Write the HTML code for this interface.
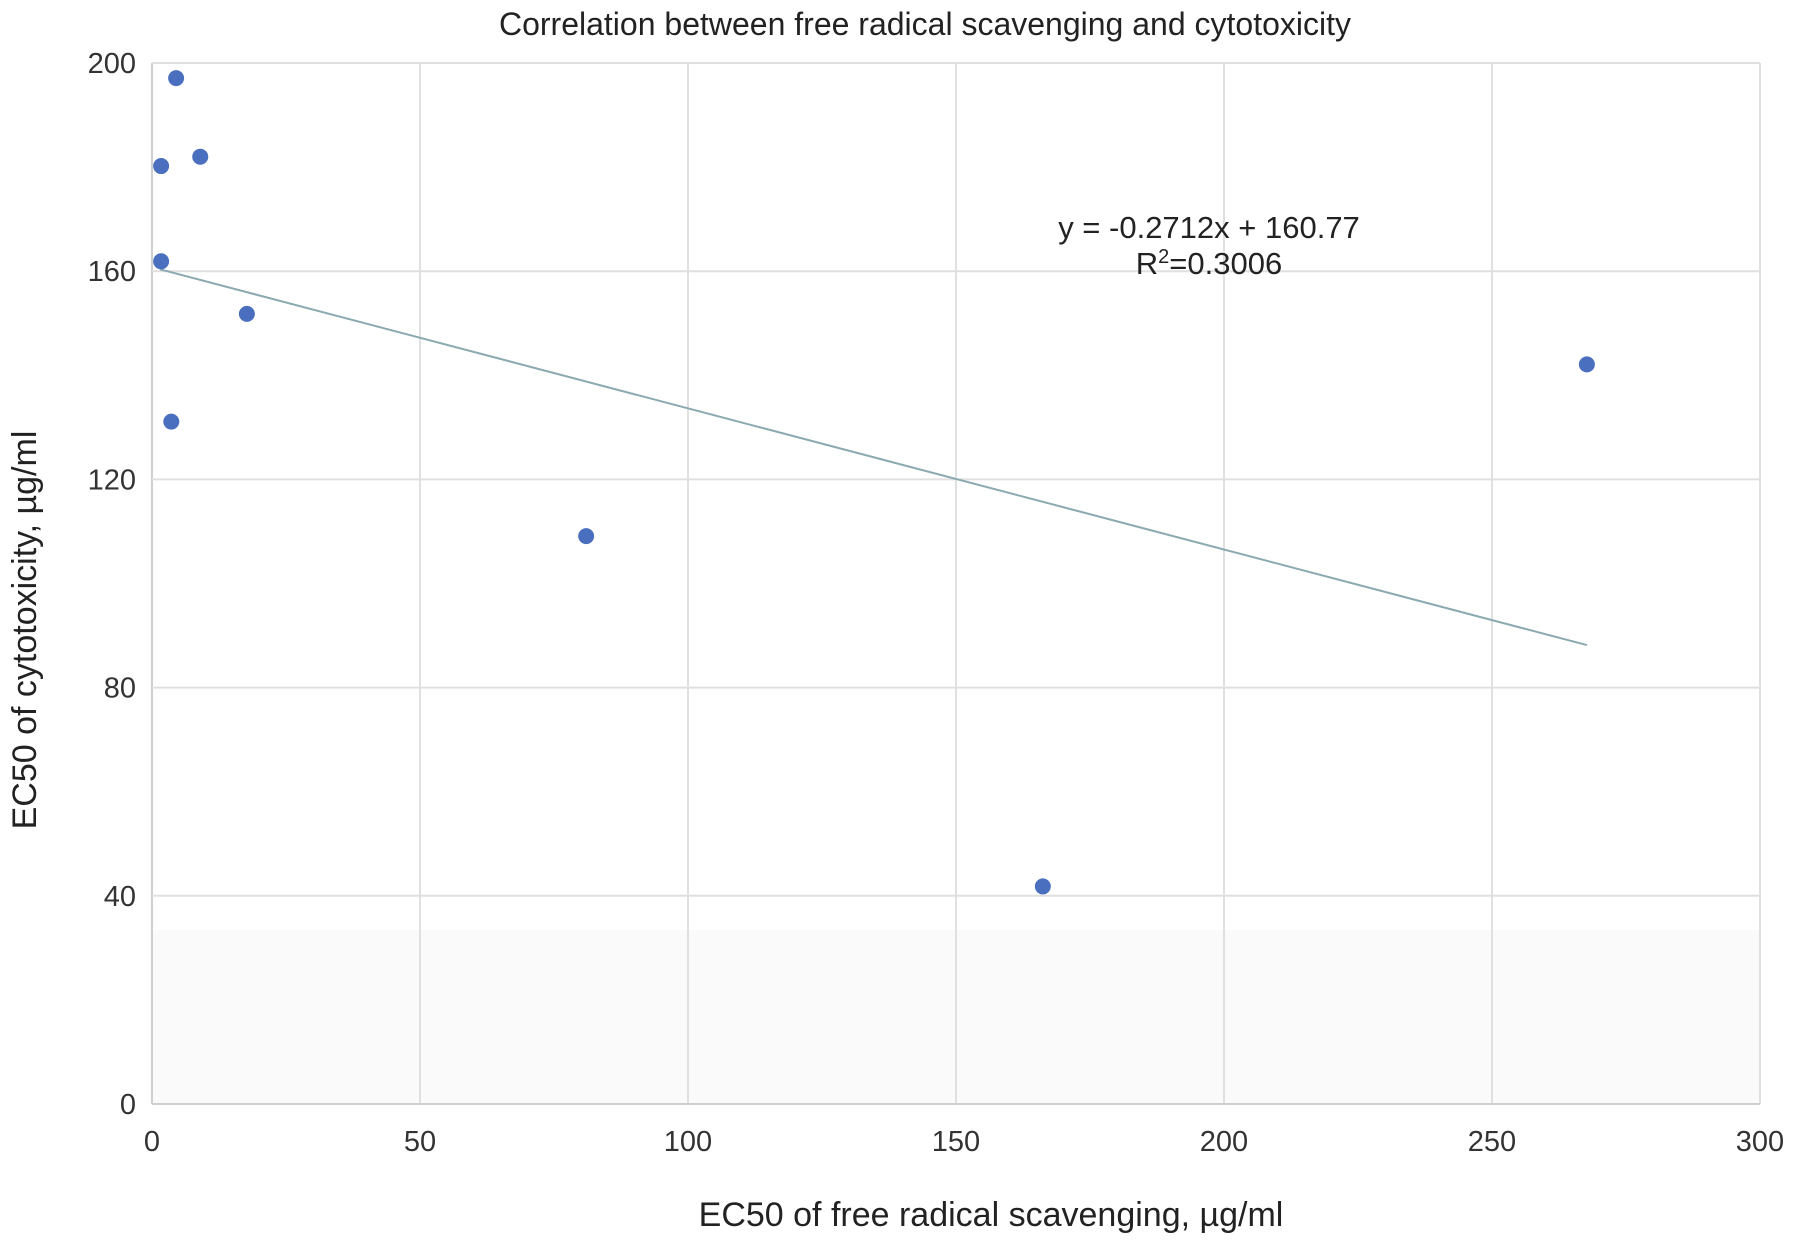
<!DOCTYPE html>
<html><head><meta charset="utf-8"><style>
body{margin:0;background:#fff;}
svg{display:block;font-family:"Liberation Sans",sans-serif;}
</style></head><body>
<svg id="chart" width="1795" height="1246">
<text x="925" y="35" font-size="32" text-anchor="middle" fill="#222">Correlation between free radical scavenging and cytotoxicity</text>
<rect x="152" y="930" width="1608" height="174" fill="#fafafa"/>
<g id="grid"></g>
<g id="ticks"></g>
<g id="trend"></g>
<g id="points"></g>
<text x="1209" y="238" font-size="31" text-anchor="middle" fill="#222">y = -0.2712x + 160.77</text>
<text x="1209" y="274" font-size="31" text-anchor="middle" fill="#222">R<tspan font-size="20" dy="-11">2</tspan><tspan dy="11">=0.3006</tspan></text>
<text x="991" y="1226" font-size="34" text-anchor="middle" fill="#222">EC50 of free radical scavenging, µg/ml</text>
<text transform="translate(36,630) rotate(-90)" font-size="34" text-anchor="middle" fill="#222">EC50 of cytotoxicity, µg/ml</text>
</svg>
<script>
const xValues=[4.5,1.7,9.0,1.7,17.7,3.6,81.0,166.2,267.7];
const yValues=[197.1,180.2,182.0,161.9,151.8,131.1,109.1,41.8,142.1];
const xTicks=[0,50,100,150,200,250,300];
const yTicks=[0,40,80,120,160,200];
const slope=-0.2712, intercept=160.77;
const trendRange=[1.5,267.7];
const L=152,R=1760,T=63,B=1104;
const sx=v=>L+(v/300)*(R-L);
const sy=v=>B-(v/200)*(B-T);
const NS="http://www.w3.org/2000/svg";
function mk(tag,attrs,parent,txt){const e=document.createElementNS(NS,tag);for(const k in attrs)e.setAttribute(k,attrs[k]);if(txt!==undefined)e.textContent=txt;document.getElementById(parent).appendChild(e);return e;}
xTicks.forEach(t=>{
  const g=mk('line',{x1:sx(t),x2:sx(t),y1:T,y2:B,stroke:t===0?'#cfcfcf':'#e0e0e0','stroke-width':2},'grid');
  
  
  const l=mk('text',{x:sx(t),y:B+47,'font-size':29,'text-anchor':'middle',fill:'#333'},'ticks',String(t));
  
  
});
yTicks.forEach(t=>{
  const g=mk('line',{x1:L,x2:R,y1:sy(t),y2:sy(t),stroke:t===0?'#cfcfcf':'#e0e0e0','stroke-width':2},'grid');
  
  
  const l=mk('text',{x:L-16,y:sy(t)+10,'font-size':29,'text-anchor':'end',fill:'#333'},'ticks',String(t));
  
  
});
const tl=mk('line',{x1:sx(trendRange[0]),y1:sy(slope*trendRange[0]+intercept),x2:sx(trendRange[1]),y2:sy(slope*trendRange[1]+intercept),stroke:'#8aa9b0','stroke-width':2},'trend');


xValues.forEach((x,i)=>{
  const c=mk('circle',{cx:sx(x),cy:sy(yValues[i]),r:8,fill:'#4a6fbf'},'points');
  
  
});
</script>
</body></html>
